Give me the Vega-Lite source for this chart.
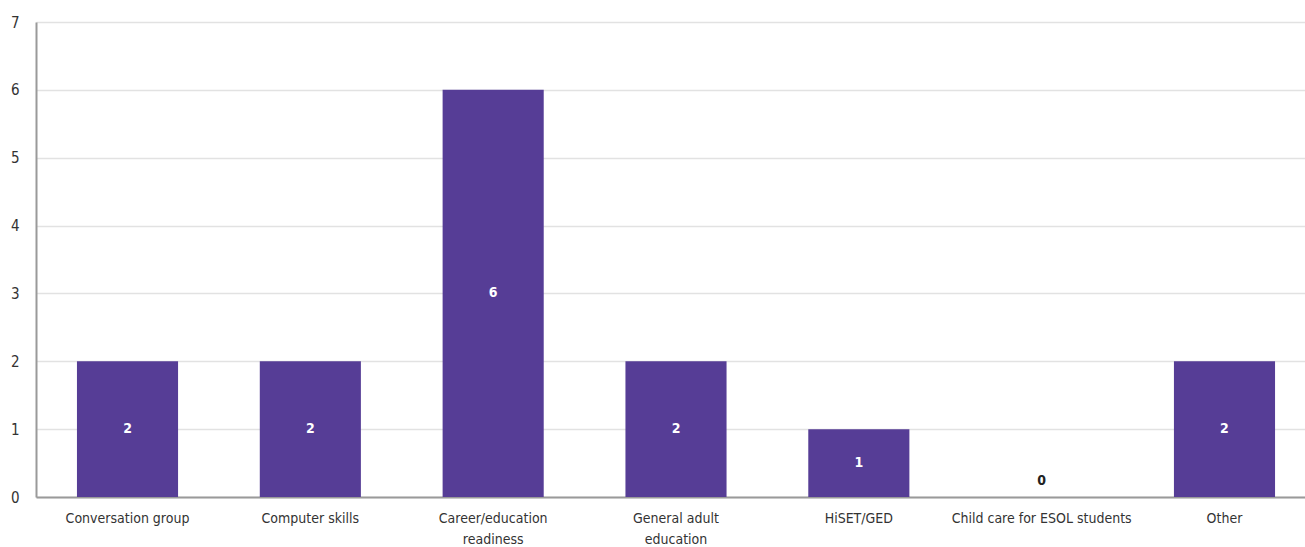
{
  "$schema": "https://vega.github.io/schema/vega-lite/v6.json",
  "width": 1269,
  "height": 475,
  "padding": {"left": 36, "top": 22, "right": 0, "bottom": 50},
  "autosize": {"type": "none"},
  "background": "white",
  "config": {
    "view": {"stroke": null},
    "font": "DejaVu Sans Condensed, Roboto Condensed, Roboto",
    "axis": {
      "labelFont": "DejaVu Sans Condensed, Roboto Condensed, Roboto",
      "labelColor": "#333333",
      "labelFontSize": 14,
      "domainColor": "#9a9a9a",
      "domainWidth": 2,
      "ticks": false,
      "title": null
    }
  },
  "data": {
    "values": [
      {"category": "Conversation group", "count": 2},
      {"category": "Computer skills", "count": 2},
      {"category": "Career/education readiness", "count": 6},
      {"category": "General adult education", "count": 2},
      {"category": "HiSET/GED", "count": 1},
      {"category": "Child care for ESOL students", "count": 0},
      {"category": "Other", "count": 2}
    ]
  },
  "encoding": {
    "x": {
      "field": "category",
      "type": "nominal",
      "sort": null,
      "scale": {"range": [0, 1280], "paddingInner": 0.447, "paddingOuter": 0.224},
      "axis": {
        "labelAngle": 0,
        "labelPadding": 14,
        "labelLineHeight": 21,
        "labelExpr": "datum.label == 'Career/education readiness' ? ['Career/education', 'readiness'] : datum.label == 'General adult education' ? ['General adult', 'education'] : datum.label",
        "grid": false
      }
    }
  },
  "layer": [
    {
      "mark": {"type": "bar", "color": "#563d96"},
      "encoding": {
        "y": {
          "field": "count",
          "type": "quantitative",
          "scale": {"domain": [0, 7], "nice": false},
          "axis": {
            "values": [0, 1, 2, 3, 4, 5, 6, 7],
            "format": "d",
            "grid": true,
            "gridColor": "#e2e2e2",
            "gridWidth": 1.5,
            "labelPadding": 17,
            "labelFontSize": 15
          }
        }
      }
    },
    {
      "transform": [
        {"filter": "datum.count > 0"},
        {"calculate": "datum.count / 2", "as": "mid"}
      ],
      "mark": {"type": "text", "color": "white", "fontWeight": "bold", "fontSize": 14, "baseline": "middle"},
      "encoding": {
        "y": {"field": "mid", "type": "quantitative"},
        "text": {"field": "count", "type": "quantitative"}
      }
    },
    {
      "transform": [{"filter": "datum.count == 0"}],
      "mark": {"type": "text", "color": "#222222", "fontWeight": "bold", "fontSize": 14, "baseline": "middle", "dy": -16},
      "encoding": {
        "y": {"field": "count", "type": "quantitative"},
        "text": {"field": "count", "type": "quantitative"}
      }
    }
  ]
}
